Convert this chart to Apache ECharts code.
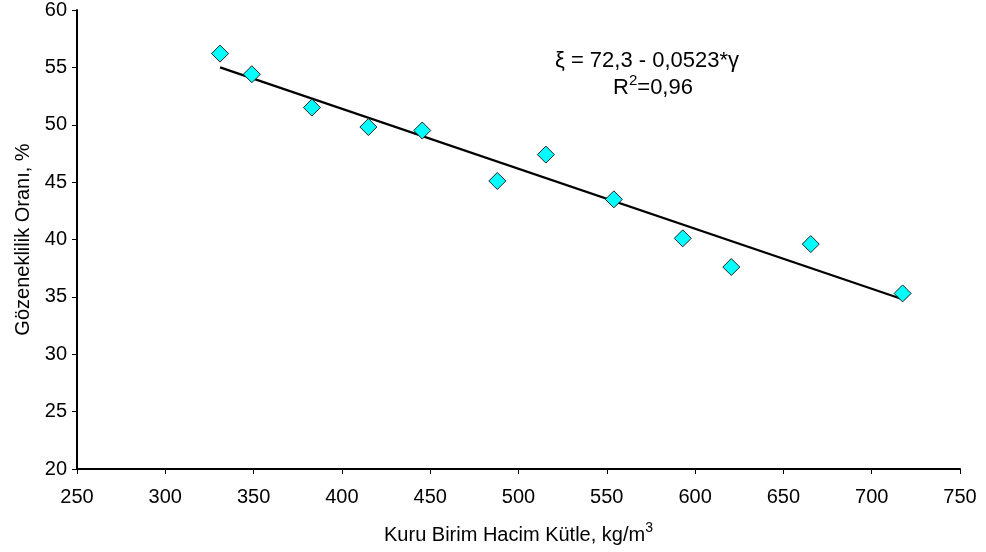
<!DOCTYPE html>
<html>
<head>
<meta charset="utf-8">
<script src="https://cdn.jsdelivr.net/npm/echarts@6/dist/echarts.min.js"></script>
<style>
  html, body { margin: 0; padding: 0; background: #fff; }
  #chart { width: 986px; height: 552px; }
</style>
</head>
<body>
<div id="chart"></div>
<script>
// Dry bulk density (kg/m3) vs porosity (%)
const density = [331, 349, 383, 415, 445.5, 488, 515.5, 554, 593, 620.5, 665.5, 717.5];
const porosity = [56.2, 54.4, 51.5, 49.8, 49.5, 45.1, 47.4, 43.5, 40.1, 37.6, 39.6, 35.3];

// Linear fit line endpoints
const fitX = [331, 717.5];
const fitY = [55.0, 34.8];

const xTicks = { min: 250, max: 750, step: 50 };
const yTicks = { min: 20, max: 60, step: 5 };

const equationText = 'ξ = 72,3 - 0,0523*γ';
const r2Text = '{b|R}{sup|2}{b|=0,96}';
const xTitle = '{b|Kuru Birim Hacim Kütle, kg/m}{sup|3}';

const FONT = '"Liberation Sans", Arial, sans-serif';

const chart = echarts.init(document.getElementById('chart'), null, { renderer: 'canvas' });

const points = density.map((x, i) => [x, porosity[i]]);
const fitLine = fitX.map((x, i) => [x, fitY[i]]);

chart.setOption({
  animation: false,
  backgroundColor: '#ffffff',
  grid: { left: 77, right: 26, top: 8, bottom: 83, containLabel: false },
  xAxis: {
    type: 'value',
    min: xTicks.min, max: xTicks.max, interval: xTicks.step,
    name: xTitle,
    nameLocation: 'middle',
    nameGap: 52,
    nameTextStyle: {
      fontFamily: FONT, fontSize: 20, color: '#000',
      rich: {
        b: { fontFamily: FONT, fontSize: 20, color: '#000', lineHeight: 24, verticalAlign: 'bottom' },
        sup: { fontFamily: FONT, fontSize: 14, color: '#000', lineHeight: 24, verticalAlign: 'top' }
      }
    },
    axisLine: { lineStyle: { color: '#000', width: 2 } },
    axisTick: { show: true, inside: false, length: 5, lineStyle: { color: '#000', width: 1 } },
    axisLabel: { fontFamily: FONT, fontSize: 20, color: '#000', margin: 18 },
    splitLine: { show: false }
  },
  yAxis: {
    type: 'value',
    min: yTicks.min, max: yTicks.max, interval: yTicks.step,
    name: 'Gözeneklilik Oranı, %',
    nameLocation: 'middle',
    nameRotate: 90,
    nameGap: 44,
    nameTextStyle: { fontFamily: FONT, fontSize: 20, color: '#000' },
    axisLine: { show: true, lineStyle: { color: '#000', width: 2 } },
    axisTick: { show: true, inside: false, length: 5, lineStyle: { color: '#000', width: 1 } },
    axisLabel: { fontFamily: FONT, fontSize: 20, color: '#000', margin: 10 },
    splitLine: { show: false }
  },
  series: [
    {
      type: 'line',
      data: fitLine,
      symbol: 'none',
      lineStyle: { color: '#000', width: 2.2 },
      z: 2
    },
    {
      type: 'scatter',
      data: points,
      symbol: 'diamond',
      symbolSize: [17, 17],
      itemStyle: { color: '#00FFFF', borderColor: '#222', borderWidth: 1, opacity: 1 },
      z: 3
    }
  ],
  graphic: [
    {
      type: 'text',
      x: 647, y: 60.5,
      style: { text: equationText, font: '22px ' + FONT, fill: '#000', align: 'center', verticalAlign: 'middle' }
    },
    {
      type: 'text',
      x: 653, y: 86,
      style: {
        text: r2Text, fill: '#000', align: 'center', verticalAlign: 'middle',
        rich: {
          b: { fontFamily: FONT, fontSize: 22, fill: '#000', lineHeight: 26, verticalAlign: 'bottom' },
          sup: { fontFamily: FONT, fontSize: 15, fill: '#000', lineHeight: 26, verticalAlign: 'top' }
        }
      }
    }
  ]
});
</script>
</body>
</html>
